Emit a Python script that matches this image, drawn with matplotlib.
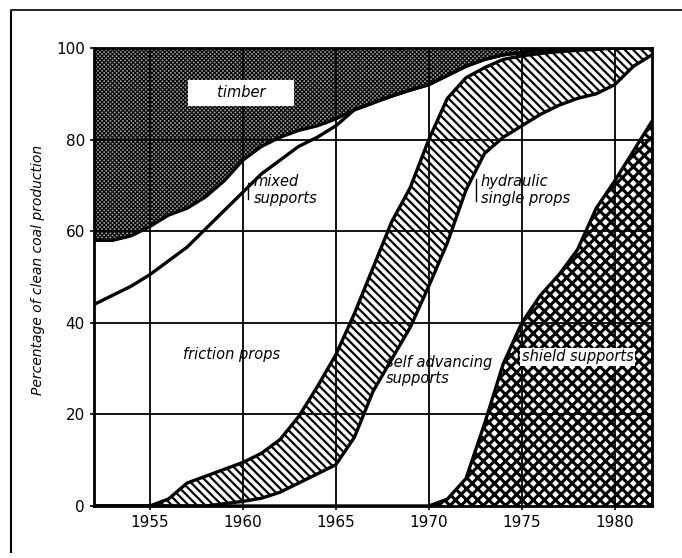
import matplotlib
matplotlib.use('Agg')
import matplotlib.pyplot as plt
from matplotlib.lines import Line2D

years = list(range(1952, 1983))

# cumulative boundaries, % of clean coal production (bottom to top)
shield_top = [0, 0, 0, 0, 0, 0, 0, 0, 0, 0, 0, 0, 0, 0, 0, 0, 0, 0,
              0, 1.5, 6, 18, 31, 40, 46, 50.5, 56, 65, 71, 77.5, 84]
self_adv_top = [0, 0, 0, 0, 0, 0, 0,
                0.5, 1, 1.7, 3, 5, 7, 9, 15, 25, 32, 39, 48, 57.5, 69,
                77, 80.5, 83, 85.5, 87.5, 89, 90, 92, 96, 98.5]
hydraulic_top = [0, 0, 0,
                 0, 1.5, 5, 6.5, 8, 9.5, 11.5, 14.5, 19.5, 26, 33, 42, 52,
                 62, 69.5, 80, 89, 93.5, 95.7, 97.5, 98.3, 98.8, 99.2, 99.5,
                 99.7, 100, 100, 100]
friction_top = [44, 46, 48, 50.5, 53.5, 56.5, 60.5, 64.5, 68.5, 72.5, 75.5,
                78.5, 80.5, 83, 86.5, 88, 89.5, 90.8, 92, 94, 96, 97.5, 98.5,
                99, 99.5, 99.8, 100, 100, 100, 100, 100]
mixed_top = [58, 58, 59, 61, 63.5, 65, 67.5, 71, 75.5, 78.5, 80.5, 82, 83,
             84.5, 86.5, 88, 89.5, 90.8, 92, 94, 96, 97.5, 98.5, 99, 99.5,
             99.8, 100, 100, 100, 100, 100]

xticks = [1955, 1960, 1965, 1970, 1975, 1980]
yticks = [0, 20, 40, 60, 80, 100]

plt.rcParams['font.family'] = 'DejaVu Sans'

fig = plt.figure(figsize=(6.82, 5.58), dpi=100)
ax = fig.add_axes([0.1378, 0.0932, 0.8182, 0.8208])


def hatched(lower, upper, hatch, lw, fc='white'):
    plt.rcParams['hatch.linewidth'] = lw
    coll = ax.fill_between(years, lower, upper, facecolor=fc,
                           edgecolor='black', linewidth=0, hatch=hatch,
                           zorder=1)
    if hasattr(coll, 'set_hatch_linewidth'):
        coll.set_hatch_linewidth(lw)
    return coll


hatched(0, shield_top, 'xxx', 2.2)
hatched(self_adv_top, hydraulic_top, '\\\\\\\\', 1.6)
hatched(mixed_top, 100, 'xxxxxxxx', 0.8, fc='#9a9a9a')

# grid
for x in xticks:
    ax.axvline(x, color='black', lw=1.3, zorder=2)
for y in yticks[1:-1]:
    ax.axhline(y, color='black', lw=1.3, zorder=2)

# boundary lines
for curve in (shield_top, self_adv_top, hydraulic_top, friction_top, mixed_top):
    ax.plot(years, curve, color='black', lw=2.4, solid_joinstyle='round',
            zorder=3)

ax.set_xlim(1952, 1982)
ax.set_ylim(0, 100)
ax.set_xticks(xticks)
ax.set_yticks(yticks)
ax.tick_params(labelsize=11, length=3, width=1.2, color='black')
for s in ax.spines.values():
    s.set_linewidth(2)
    s.set_zorder(4)

ax.set_ylabel('Percentage of clean coal production', style='italic',
              fontsize=10)
ax.yaxis.set_label_coords(-0.088, 0.516)

lab = dict(style='italic', fontsize=10.5, zorder=6)
ax.text(1959.9, 90.2, '     timber     ', ha='center', va='center',
        bbox=dict(fc='white', ec='none', boxstyle='square,pad=0.4'), **lab)
ax.text(1960.6, 69, 'mixed\nsupports', ha='left', va='center',
        linespacing=1.1, **lab)
ax.text(1972.8, 69, 'hydraulic\nsingle props', ha='left', va='center',
        linespacing=1.1, **lab)
ax.text(1959.4, 33, 'friction props', ha='center', va='center', **lab)
ax.text(1967.7, 29.5, 'self advancing\nsupports', ha='left', va='center',
        linespacing=1.1, **lab)
ax.text(1975.0, 32.6, 'shield supports', ha='left', va='center',
        bbox=dict(fc='white', ec='none', boxstyle='square,pad=0.1'), **lab)

# little pointer marks next to the labels
ax.plot([1960.3, 1960.3, 1960.55], [67, 70.5, 70.5], color='black', lw=1,
        zorder=6)
ax.plot([1972.55, 1972.55], [66.5, 71.5], color='black', lw=1, zorder=6)
ax.plot([1974.8, 1974.8], [31.5, 34], color='black', lw=1, zorder=6)

# scanned page frame
fig.add_artist(Line2D([0.016, 0.016], [0.011, 0.978], color='black', lw=1.5))
fig.add_artist(Line2D([0.016, 1.0], [0.982, 0.982], color='black', lw=1.2))

fig.savefig('out.png', dpi=100)
